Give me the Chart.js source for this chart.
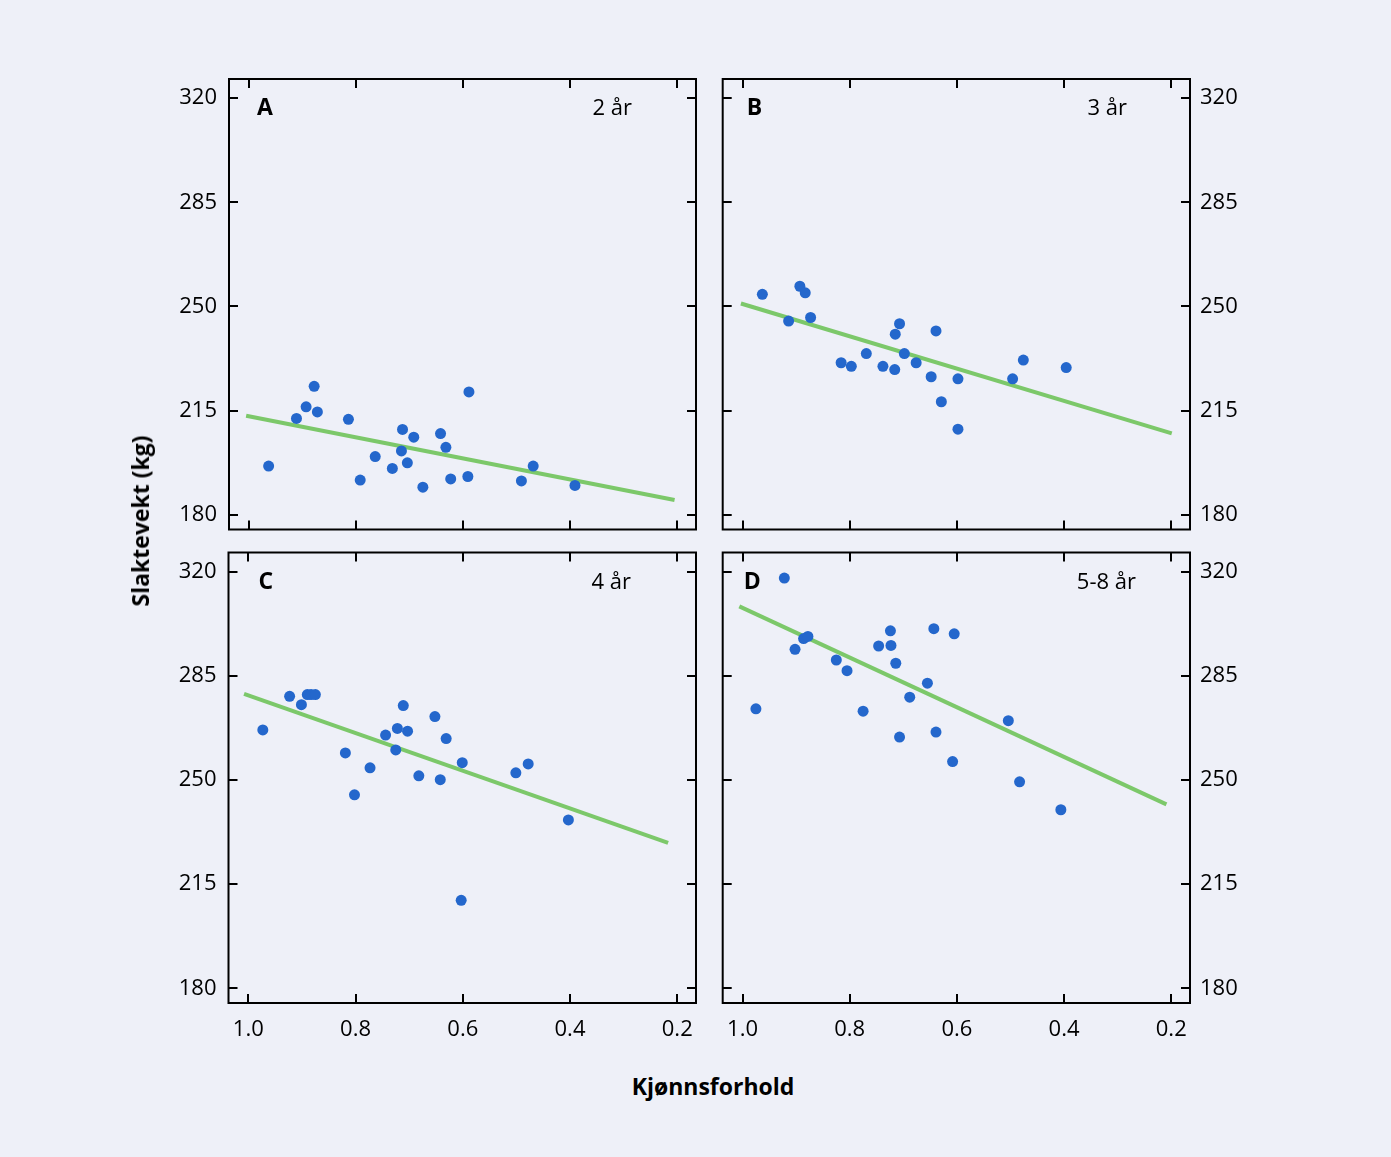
<!DOCTYPE html>
<html lang="no">
<head>
<meta charset="utf-8">
<title>Slaktevekt og kjønnsforhold</title>
<script src="https://cdn.jsdelivr.net/npm/chart.js@4.4.1/dist/chart.umd.min.js"></script>
<style>
  html, body { margin: 0; padding: 0; background: #eef0f8; }
  body { width: 1391px; height: 1157px; position: relative; overflow: hidden;
         font-family: "Open Sans", sans-serif; color: #000; }
  canvas { position: absolute; }
  #panelA { left: 150px; top: 40px; }
  #panelB { left: 700px; top: 40px; }
  #panelC { left: 150px; top: 520px; }
  #panelD { left: 700px; top: 520px; }
  .axis-title { position: absolute; font-weight: 700; font-size: 23px; white-space: nowrap; }
  #ytitle { left: 140px; top: 521px; transform: translate(-50%, -50%) rotate(-90deg); }
  #xtitle { left: 713px; top: 1086px; transform: translate(-50%, -50%); }
</style>
</head>
<body>
<canvas id="panelA" width="560" height="520"></canvas>
<canvas id="panelB" width="560" height="520"></canvas>
<canvas id="panelC" width="560" height="540"></canvas>
<canvas id="panelD" width="560" height="540"></canvas>
<div class="axis-title" id="ytitle">Slaktevekt (kg)</div>
<div class="axis-title" id="xtitle">Kjønnsforhold</div>
<script>
// aksemerker
const xTicks = [1.0, 0.8, 0.6, 0.4, 0.2];
const yTicks = [180, 215, 250, 285, 320];

// A: 2 år
const aX = [0.963, 0.911, 0.893, 0.878, 0.872, 0.814, 0.792, 0.764, 0.732, 0.713, 0.715,
            0.704, 0.692, 0.675, 0.642, 0.632, 0.623, 0.589, 0.591, 0.491, 0.469, 0.391];
const aY = [196.4, 212.4, 216.3, 223.2, 214.6, 212.1, 191.7, 199.6, 195.6, 208.7, 201.5,
            197.5, 206.1, 189.3, 207.3, 202.7, 192.1, 221.3, 192.9, 191.4, 196.4, 189.9];
const aFitX = [1.005, 0.205];
const aFitY = [213.3, 185.0];

// B: 3 år
const bX = [0.963, 0.914, 0.893, 0.883, 0.873, 0.816, 0.797, 0.769, 0.738, 0.716, 0.715,
            0.707, 0.698, 0.676, 0.648, 0.639, 0.629, 0.598, 0.598, 0.496, 0.476, 0.396];
const bY = [254.1, 245.1, 256.8, 254.6, 246.3, 231.1, 229.9, 234.2, 229.9, 228.8, 240.7,
            244.2, 234.2, 231.1, 226.4, 241.8, 218.0, 225.7, 208.8, 225.7, 232.0, 229.5];
const bFitX = [1.003, 0.199];
const bFitY = [251.0, 207.4];

// C: 4 år
const cX = [0.973, 0.923, 0.901, 0.890, 0.883, 0.875, 0.819, 0.802, 0.773, 0.744, 0.725, 0.722,
            0.711, 0.703, 0.682, 0.652, 0.642, 0.631, 0.601, 0.603, 0.501, 0.478, 0.403];
const cY = [266.8, 278.1, 275.3, 278.7, 278.7, 278.7, 259.1, 245.0, 254.1, 265.1, 260.1, 267.3,
            275.0, 266.4, 251.4, 271.3, 250.1, 263.9, 255.8, 209.6, 252.4, 255.4, 236.6];
const cFitX = [1.008, 0.217];
const cFitY = [278.9, 228.9];

// D: 5-8 år
const dX = [0.922, 0.975, 0.902, 0.886, 0.878, 0.825, 0.805, 0.775, 0.746, 0.724, 0.723,
            0.714, 0.707, 0.688, 0.655, 0.643, 0.639, 0.608, 0.605, 0.504, 0.483, 0.406];
const dY = [317.8, 273.9, 293.9, 297.5, 298.2, 290.3, 286.7, 273.1, 295.0, 300.1, 295.2,
            289.2, 264.4, 277.8, 282.5, 300.8, 266.1, 256.2, 299.1, 269.9, 249.4, 240.0];
const dFitX = [1.006, 0.209];
const dFitY = [308.3, 241.8];

const dotColor = '#2467cc';
const fitColor = '#7cc86a';
const ink = '#000';

function pairs(xs, ys) {
    return xs.map((x, i) => ({ x: x, y: ys[i] }));
}

// ramme med innovervendte merker på alle fire sider, pluss panelbokstav og alder
const framePlugin = {
    id: 'frame',
    afterDraw(chart, args, opts) {
        const ctx = chart.ctx;
        const a = chart.chartArea;
        const xs = chart.scales.x;
        const ys = chart.scales.y;
        const len = 9;
        ctx.save();
        ctx.strokeStyle = ink;
        ctx.lineWidth = 2;
        ctx.strokeRect(a.left, a.top, a.right - a.left, a.bottom - a.top);
        ctx.beginPath();
        yTicks.forEach(v => {
            const py = Math.round(ys.getPixelForValue(v));
            ctx.moveTo(a.left, py); ctx.lineTo(a.left + len, py);
            ctx.moveTo(a.right, py); ctx.lineTo(a.right - len, py);
        });
        xTicks.forEach(v => {
            const px = Math.round(xs.getPixelForValue(v));
            ctx.moveTo(px, a.top); ctx.lineTo(px, a.top + len);
            ctx.moveTo(px, a.bottom); ctx.lineTo(px, a.bottom - len);
        });
        ctx.stroke();

        ctx.fillStyle = ink;
        ctx.textBaseline = 'alphabetic';
        ctx.font = '700 23px "Open Sans"';
        ctx.textAlign = 'left';
        ctx.fillText(opts.letter, a.left + opts.letterDx, a.top + 36);
        ctx.font = '400 22px "Open Sans"';
        ctx.textAlign = 'right';
        ctx.fillText(opts.age, a.right - opts.ageDx, a.top + 36);
        ctx.restore();
    }
};

const panels = [
    { id: 'panelA', letter: 'A', age: '2 år', xs: aX, ys: aY, fx: aFitX, fy: aFitY,
      yPos: 'left', showX: false, yW: 79, xH: 0,
      pad: { left: 0, right: 14, top: 39, bottom: 30.5 }, letterDx: 28, ageDx: 64 },
    { id: 'panelB', letter: 'B', age: '3 år', xs: bX, ys: bY, fx: bFitX, fy: bFitY,
      yPos: 'right', showX: false, yW: 70, xH: 0,
      pad: { left: 22.7, right: 0, top: 39, bottom: 30.5 }, letterDx: 24, ageDx: 63 },
    { id: 'panelC', letter: 'C', age: '4 år', xs: cX, ys: cY, fx: cFitX, fy: cFitY,
      yPos: 'left', showX: true, yW: 78.5, xH: 57,
      pad: { left: 0, right: 14, top: 32.5, bottom: 0 }, letterDx: 30, ageDx: 65 },
    { id: 'panelD', letter: 'D', age: '5-8 år', xs: dX, ys: dY, fx: dFitX, fy: dFitY,
      yPos: 'right', showX: true, yW: 70, xH: 57,
      pad: { left: 22.7, right: 0, top: 32.5, bottom: 0 }, letterDx: 21, ageDx: 54 }
];

panels.forEach(p => {
    const ctx = document.getElementById(p.id).getContext('2d');
    new Chart(ctx, {
        type: 'scatter',
        data: {
            datasets: [{
                label: p.age,
                data: pairs(p.xs, p.ys),
                backgroundColor: dotColor,
                borderColor: dotColor,
                borderWidth: 0,
                pointRadius: 5.5,
                order: 0
            }, {
                label: 'regresjon',
                data: pairs(p.fx, p.fy),
                showLine: true,
                borderColor: fitColor,
                borderWidth: 4,
                pointRadius: 0,
                order: 1
            }]
        },
        options: {
            responsive: false,
            animation: false,
            devicePixelRatio: 1,
            layout: { padding: p.pad },
            plugins: {
                legend: { display: false },
                tooltip: { enabled: false },
                frame: { letter: p.letter, age: p.age, letterDx: p.letterDx, ageDx: p.ageDx }
            },
            scales: {
                x: {
                    type: 'linear',
                    reverse: true,
                    min: 0.165,
                    max: 1.037,
                    grid: { display: false, drawTicks: false },
                    border: { display: false },
                    afterBuildTicks: s => { s.ticks = xTicks.map(v => ({ value: v })); },
                    afterFit: s => { s.height = p.xH; },
                    ticks: {
                        display: p.showX,
                        padding: 14,
                        maxRotation: 0,
                        autoSkip: false,
                        color: ink,
                        font: { family: '"Open Sans"', size: 22 },
                        callback: v => v.toFixed(1)
                    }
                },
                y: {
                    type: 'linear',
                    position: p.yPos,
                    min: 175.1,
                    max: 326.4,
                    grid: { display: false, drawTicks: false },
                    border: { display: false },
                    afterBuildTicks: s => { s.ticks = yTicks.map(v => ({ value: v })); },
                    afterFit: s => { s.width = p.yW; },
                    ticks: {
                        padding: p.yPos === 'left' ? 12 : 10,
                        autoSkip: false,
                        color: ink,
                        font: { family: '"Open Sans"', size: 22 },
                        callback: v => String(v)
                    }
                }
            }
        },
        plugins: [framePlugin]
    });
});
</script>
</body>
</html>
